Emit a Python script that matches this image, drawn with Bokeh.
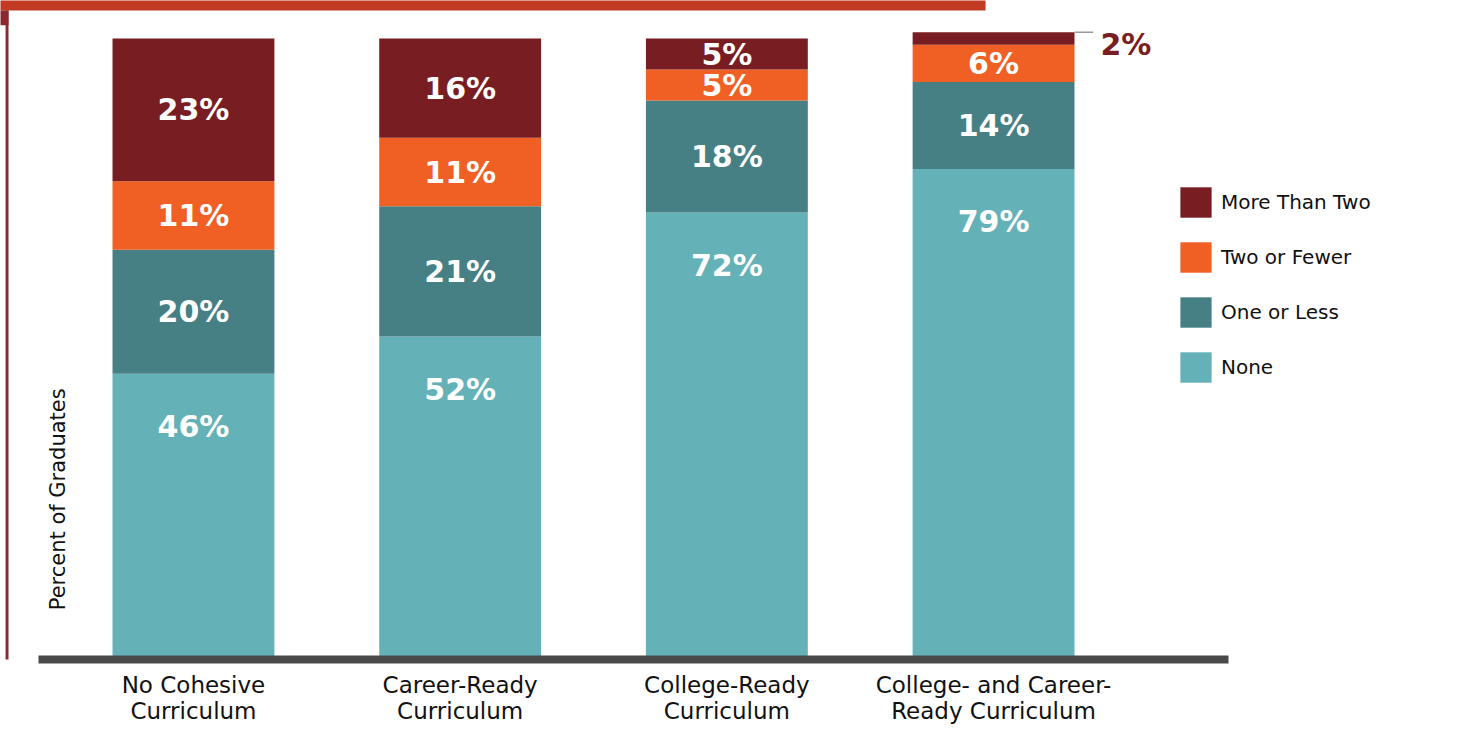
import numpy as np
from bokeh.plotting import figure
from bokeh.models import ColumnDataSource, Range1d, FixedTicker, Legend, LegendItem, Label
from bokeh.core.properties import value
from bokeh.embed import file_html
from bokeh.resources import INLINE

# ---- data ----
categories = ["No Cohesive Curriculum", "Career-Ready Curriculum",
              "College-Ready Curriculum", "College- and Career-Ready Curriculum"]
tick_labels = ["No Cohesive\nCurriculum", "Career-Ready\nCurriculum",
               "College-Ready\nCurriculum", "College- and Career-\nReady Curriculum"]
series = ["None", "One or Less", "Two or Fewer", "More Than Two"]
none_vals = [46, 52, 72, 79]
one_or_less = [20, 21, 18, 14]
two_or_fewer = [11, 11, 5, 6]
more_than_two = [23, 16, 5, 2]
colors = ["#64b2b7", "#468085", "#f05f23", "#781e22"]

values = [none_vals, one_or_less, two_or_fewer, more_than_two]
keys = ["none", "one", "two", "more"]

xs = np.arange(len(categories)) + 0.5
bar_w = 0.607
x_start = -0.2235
x_end = 5.217
y_end = 106.12

src = ColumnDataSource(dict(x=xs, none=none_vals, one=one_or_less, two=two_or_fewer, more=more_than_two))

p = figure(width=1451, height=726,
           x_range=Range1d(x_start, x_end), y_range=Range1d(0, y_end),
           y_axis_location=None, toolbar_location=None, output_backend="svg",
           min_border_left=0, min_border_right=0, min_border_top=0, min_border_bottom=67)
p.outline_line_color = None
p.xgrid.visible = False
p.ygrid.visible = False
p.background_fill_color = "white"
p.border_fill_color = "white"

# decorative frame pieces: header strip and left border
p.quad(left=x_start - 0.1, right=3.47, bottom=y_end - 1.6, top=y_end + 5, color="#c23a22", line_width=0)
p.quad(left=x_start + 0.019, right=x_start + 0.030, bottom=-5, top=y_end - 1.6, color="#8b2a2e", line_width=0)
p.quad(left=x_start - 0.1, right=x_start + 0.030, bottom=y_end - 4.0, top=y_end - 1.6, color="#8b2a2e", line_width=0)

renderers = p.vbar_stack(keys, x="x", width=bar_w, color=colors, source=src, line_width=0)

# segment labels
lx, ly, lt = [], [], []
ox, oy, ot = [], [], []
sx0, sx1, sy = [], [], []
for i in range(len(categories)):
    bottom = 0
    for j in range(len(series)):
        v = values[j][i]
        top = bottom + v
        if j == 0:
            lx.append(xs[i]); ly.append(top - 8.5); lt.append(f"{v}%")
        elif v < 4:
            edge = xs[i] + bar_w / 2
            sx0.append(edge); sx1.append(edge + 0.07); sy.append(top)
            ox.append(edge + 0.097); oy.append(top - 2.0); ot.append(f"{v}%")
        else:
            lx.append(xs[i]); ly.append((bottom + top) / 2); lt.append(f"{v}%")
        bottom = top

p.text(x=lx, y=ly, text=lt, text_color="white", text_font=value("DejaVu Sans"),
       text_font_style="bold", text_font_size="30px", text_align="center", text_baseline="middle")
p.segment(x0=sx0, y0=sy, x1=sx1, y1=sy, line_color="#9a9a9a", line_width=1.5)
p.text(x=ox, y=oy, text=ot, text_color="#781e22", text_font=value("DejaVu Sans"),
       text_font_style="bold", text_font_size="30px", text_align="left", text_baseline="middle")

# x axis
ax = p.xaxis[0]
ax.ticker = FixedTicker(ticks=list(xs))
ax.major_label_overrides = {float(x): t for x, t in zip(xs, tick_labels)}
ax.bounds = (-0.081, 4.381)
ax.axis_line_width = 8
ax.axis_line_color = "#4a4a4a"
ax.major_tick_line_color = None
ax.minor_tick_line_color = None
ax.major_label_standoff = 6
ax.major_label_text_font = "DejaVu Sans"
ax.major_label_text_font_size = "23px"
ax.major_label_text_color = "#111111"
ax.major_label_text_line_height = 1.0

# y label
p.add_layout(Label(x=x_start + 57 / 266.7, y=25.8, text="Percent of Graduates", angle=np.pi / 2,
                   text_align="center", text_baseline="middle", text_font="DejaVu Sans",
                   text_font_size="21px", text_color="#111111"))

# legend
items = [LegendItem(label=series[j], renderers=[renderers[j]]) for j in reversed(range(len(series)))]
legend = Legend(items=items, location=(1176, 273), glyph_width=39, glyph_height=38,
                spacing=17, label_standoff=6, padding=0, margin=0,
                border_line_color=None, background_fill_alpha=0,
                label_text_font="DejaVu Sans", label_text_font_size="20px",
                label_text_color="#111111")
p.add_layout(legend)

open("out.html", "w").write(file_html(p, INLINE))
